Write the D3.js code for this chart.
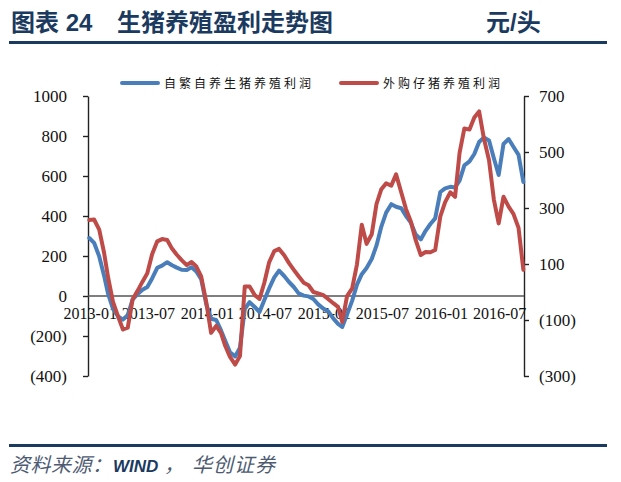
<!DOCTYPE html>
<html>
<head>
<meta charset="utf-8">
<script src="https://cdn.jsdelivr.net/npm/d3@7"></script>
<style>
  body { margin: 0; background: #fff; }
  svg { display: block; }
</style>
</head>
<body>
<div id="chart"></div>
<script>
// half-month categories, 2013-01 .. 2016-09
const dates = []
d3.timeMonth.range(new Date(2013, 0, 1), new Date(2016, 9, 1)).forEach(m => {
    dates.push(m)
    dates.push(new Date(m.getFullYear(), m.getMonth(), 16))
})

// 自繁自养生猪养殖利润 (left axis)
const selfBred = [
    290, 266, 198, 103, 9, -64, -102, -118, -97, -18,
    10, 31, 45, 88, 141, 152, 169, 154, 142, 131,
    130, 144, 123, 84, -42, -114, -120, -172, -224, -281,
    -302, -259, -65, -31, -55, -80, -20, 38, 93, 127,
    100, 70, 45, 13, 2, -2, -15, -42, -63, -76,
    -112, -139, -155, -93, -23, 57, 109, 140, 185, 253,
    347, 417, 459, 446, 439, 400, 367, 308, 283, 326,
    360, 388, 520, 538, 546, 543, 577, 653, 673, 710,
    770, 793, 778, 689, 605, 760, 785, 746, 706, 570
]

// 外购仔猪养殖利润 (right axis)
const purchased = [
    257, 259, 223, 141, 50, -35, -88, -134, -127, -27,
    5, 37, 67, 135, 181, 189, 186, 155, 133, 114,
    96, 107, 91, 56, -37, -146, -121, -147, -192, -232,
    -259, -229, 20, 20, -11, -25, 33, 106, 146, 154,
    131, 103, 79, 56, 33, 24, 0, -5, -11, -25,
    -40, -53, -107, -15, 13, 99, 240, 172, 206, 315,
    367, 388, 380, 420, 356, 296, 252, 186, 132, 143,
    142, 150, 270, 321, 356, 340, 497, 584, 580, 623,
    645, 548, 470, 330, 245, 340, 305, 279, 229, 79
]

const leftTicks = [1000, 800, 600, 400, 200, 0, -200, -400]
const rightTicks = [700, 500, 300, 100, -100, -300]
const xTicks = ['2013-01', '2013-07', '2014-01', '2014-07', '2015-01', '2015-07', '2016-01', '2016-07']
const seriesNames = ['自繁自养生猪养殖利润', '外购仔猪养殖利润']

const W = 621, H = 482
const navy = '#1b3a60'
const blue = '#4a7ebb', red = '#be4b48'

const svg = d3.select('#chart').append('svg')
    .attr('width', W)
    .attr('height', H)

// header
const title = svg.append('text')
    .attr('x', 11).attr('y', 31)
    .attr('fill', navy)
    .style('font-family', '"Liberation Sans", "Noto Sans CJK SC", sans-serif')
    .style('font-weight', 'bold')
    .style('font-size', '24px')
title.append('tspan').text('图表 24')
title.append('tspan').attr('x', 117).text('生猪养殖盈利走势图')

svg.append('text')
    .attr('x', 486).attr('y', 31)
    .attr('fill', navy)
    .style('font-family', '"Liberation Sans", "Noto Sans CJK SC", sans-serif')
    .style('font-weight', 'bold')
    .style('font-size', '24px')
    .text('元/头')

svg.append('rect').attr('x', 9).attr('y', 41).attr('width', 598).attr('height', 3).attr('fill', navy)
svg.append('rect').attr('x', 9).attr('y', 444).attr('width', 598).attr('height', 3).attr('fill', navy)

// footer
const foot = svg.append('g')
    .style('font-family', '"Liberation Sans", "Noto Sans CJK SC", sans-serif')
    .style('font-style', 'italic')
const footParts = [
    {t: '资料来源：', x: 10, size: 20, c: '#4d5b72', w: 'normal', ls: 0.5},
    {t: 'WIND', x: 113, size: 17, c: navy, w: 'bold', ls: 0},
    {t: '，', x: 164, size: 20, c: '#4d5b72', w: 'normal', ls: 0},
    {t: '华创证券', x: 192, size: 20, c: '#4d5b72', w: 'normal', ls: 1}
]
footParts.forEach(p => {
    foot.append('text')
        .attr('x', p.x).attr('y', 472)
        .attr('fill', p.c)
        .style('font-size', p.size + 'px')
        .style('font-weight', p.w)
        .style('letter-spacing', p.ls + 'px')
        .text(p.t)
})

// scales
const x = d3.scaleTime()
    .domain([new Date(2012, 11, 28), new Date(2016, 8, 18)])
    .range([88, 524])
const yL = d3.scaleLinear().domain([-400, 1000]).range([376, 96])
const yR = d3.scaleLinear().domain([-300, 700]).range([376, 96])

const fmt = d => d < 0 ? '(' + Math.abs(d) + ')' : String(d)
const serif = '"Liberation Serif", "Times New Roman", serif'

const leftAxis = svg.append('g')
    .attr('transform', 'translate(88,0)')
    .call(d3.axisLeft(yL).tickValues(leftTicks).tickFormat(fmt).tickSize(5).tickSizeOuter(0).tickPadding(16))
const rightAxis = svg.append('g')
    .attr('transform', 'translate(524,0)')
    .call(d3.axisRight(yR).tickValues(rightTicks).tickFormat(fmt).tickSize(5).tickSizeOuter(0).tickPadding(10))

;[leftAxis, rightAxis].forEach(g => {
    g.select('.domain').attr('stroke', '#222').attr('stroke-width', 1.4)
    g.selectAll('.tick line').attr('stroke', '#222').attr('stroke-width', 1.4)
    g.selectAll('.tick text')
        .attr('fill', '#111')
        .style('font-family', serif)
        .style('font-size', '17px')
})

// zero line
svg.append('line')
    .attr('x1', 88).attr('x2', 524)
    .attr('y1', yL(0)).attr('y2', yL(0))
    .attr('stroke', '#555').attr('stroke-width', 1.4)

// x labels sit just under the zero line
const parse = d3.timeParse('%Y-%m')
svg.append('g').selectAll('text')
    .data(xTicks)
    .join('text')
        .attr('x', d => x(parse(d)) + 1)
        .attr('y', yL(0) + 23)
        .attr('text-anchor', 'middle')
        .attr('fill', '#111')
        .style('font-family', serif)
        .style('font-size', '16px')
        .text(d => d)

// series
const lineL = d3.line().x((d, i) => x(dates[i])).y(d => yL(d))
const lineR = d3.line().x((d, i) => x(dates[i])).y(d => yR(d))

svg.append('path')
    .datum(selfBred)
    .attr('d', lineL)
    .attr('fill', 'none')
    .attr('stroke', blue)
    .attr('stroke-width', 4)
    .attr('stroke-linejoin', 'round')
    .attr('stroke-linecap', 'round')

svg.append('path')
    .datum(purchased)
    .attr('d', lineR)
    .attr('fill', 'none')
    .attr('stroke', red)
    .attr('stroke-width', 4)
    .attr('stroke-linejoin', 'round')
    .attr('stroke-linecap', 'round')

// legend
const legend = svg.append('g')
const legendX = [122, 341]
;[blue, red].forEach((c, i) => {
    legend.append('line')
        .attr('x1', legendX[i]).attr('x2', legendX[i] + 36)
        .attr('y1', 83).attr('y2', 83)
        .attr('stroke', c).attr('stroke-width', 4).attr('stroke-linecap', 'round')
    legend.append('text')
        .attr('x', legendX[i] + 42).attr('y', 87.5)
        .attr('fill', '#111')
        .style('font-family', '"Noto Sans CJK SC", sans-serif')
        .style('font-size', '12px')
        .style('letter-spacing', '3px')
        .text(seriesNames[i])
})
</script>
</body>
</html>
